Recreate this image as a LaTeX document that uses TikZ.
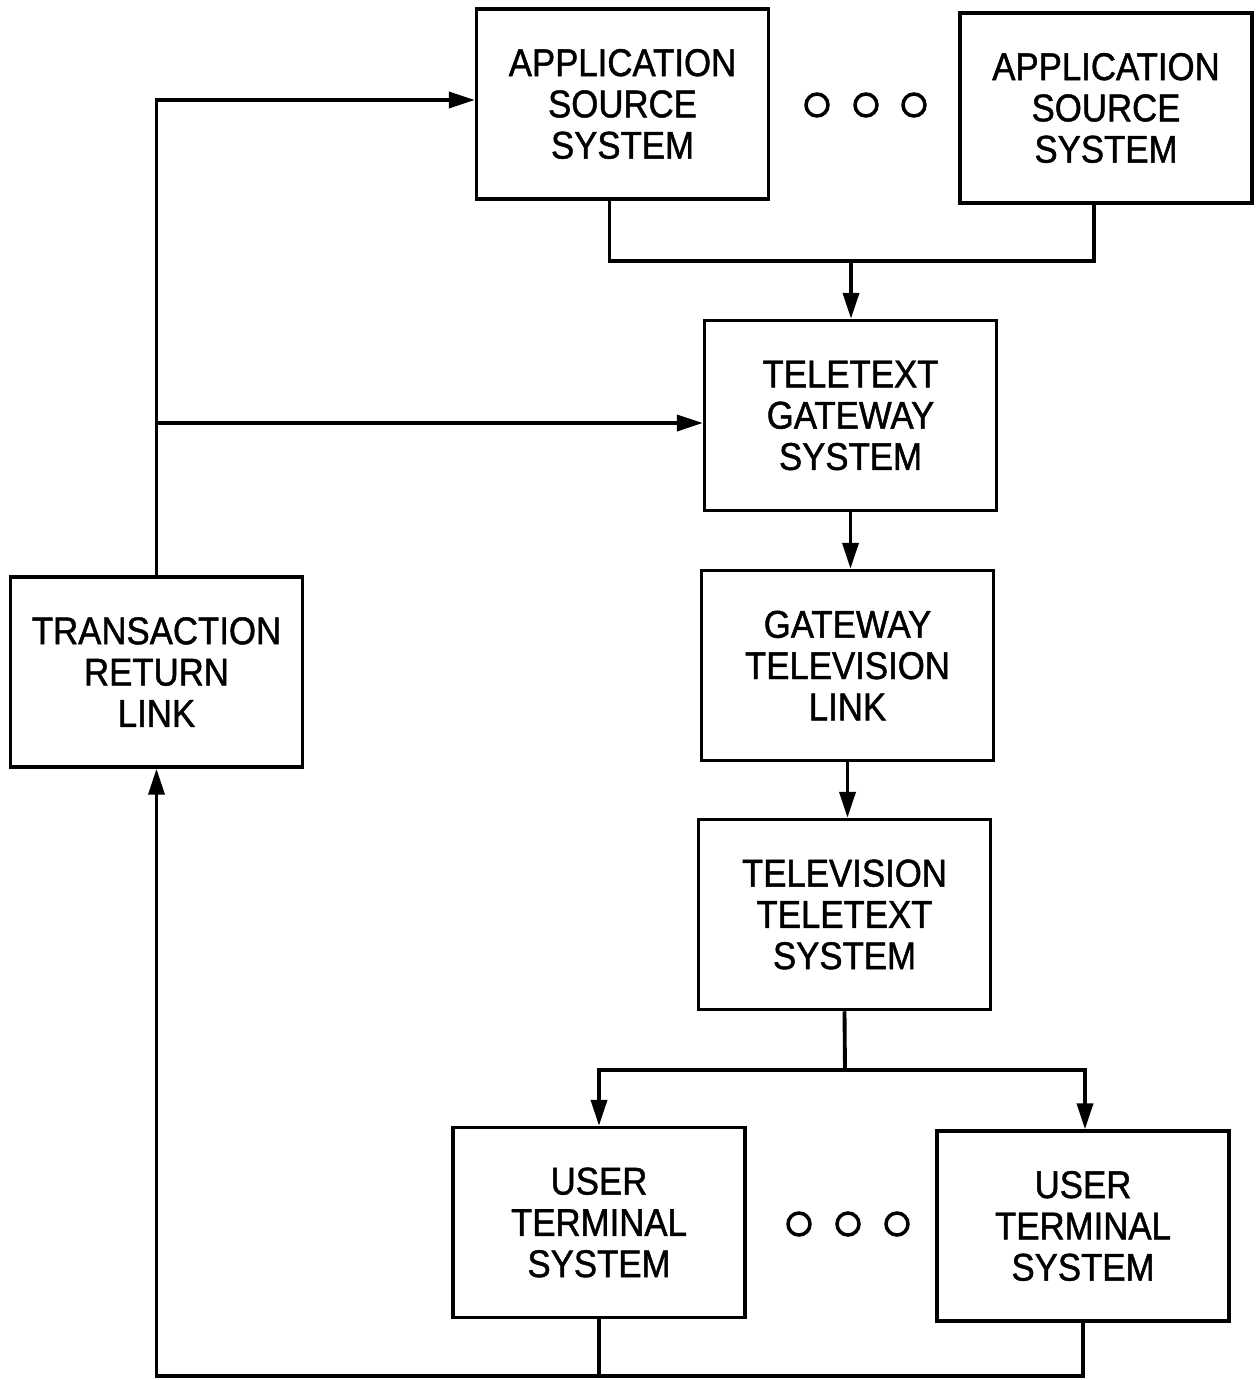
\documentclass[tikz,border=0pt]{standalone}
\usepackage{fontspec}
\setmainfont[FakeStretch=0.9,FakeBold=1.2]{Liberation Sans}
\usetikzlibrary{arrows.meta,calc}
\tikzset{
  blk/.style={draw,line width=2pt,minimum width=5.84cm,minimum height=3.8cm,inner sep=0pt,align=center,font=\fontsize{22}{23.5}\selectfont},
  ln/.style={line width=2.2pt},
  arr/.style={line width=2.2pt,-{Triangle[length=0.52cm,width=0.32cm]}},
  dot/.style={circle,draw,line width=2pt,minimum size=0.44cm,inner sep=0pt}
}
\begin{document}
\begin{tikzpicture}[x=0.02cm,y=-0.02cm]
\useasboundingbox (0,0) rectangle (1257,1380);
\node[blk] (AS1) at (622.5,104) {APPLICATION\\SOURCE\\SYSTEM};
\node[blk] (AS2) at (1106,108) {APPLICATION\\SOURCE\\SYSTEM};
\node[blk] (TG) at (850.5,415.5) {TELETEXT\\GATEWAY\\SYSTEM};
\node[blk] (GTV) at (847.5,665.5) {GATEWAY\\TELEVISION\\LINK};
\node[blk] (TVT) at (844.5,914.5) {TELEVISION\\TELETEXT\\SYSTEM};
\node[blk] (TRL) at (156.5,672) {TRANSACTION\\RETURN\\LINK};
\node[blk] (UT1) at (599,1222.5) {USER\\TERMINAL\\SYSTEM};
\node[blk] (UT2) at (1083,1226) {USER\\TERMINAL\\SYSTEM};
\node[dot] (d1) at (817,105) {};
\node[dot] (d2) at (866,105) {};
\node[dot] (d3) at (914,105) {};
\node[dot] (d4) at (799,1224) {};
\node[dot] (d5) at (848,1224) {};
\node[dot] (d6) at (897,1224) {};
\coordinate (top) at (851,261);
\coordinate (bj) at (845,1070);
\coordinate (bot) at (0,1376);
\draw[ln] ([xshift=-0.26cm]AS1.south) |- (top) -| ([xshift=-0.24cm]AS2.south);
\draw[arr] (top) -- (top |- TG.north);
\draw[arr] (TG.south) -- (TG.south |- GTV.north);
\draw[arr] (GTV.south) -- (GTV.south |- TVT.north);
\draw[ln] (TVT.south) -- (bj);
\draw[arr] (bj) -| (UT1.north);
\draw[arr] (bj) -| ([xshift=0.04cm]UT2.north);
\draw[ln] (UT2.south) |- (UT1.south |- bot);
\draw[arr] (UT1.south) |- (TRL.south |- bot) -- (TRL.south);
\draw[arr] (TRL.north) |- ([yshift=0.08cm]AS1.west);
\draw[arr] (TRL.north |- 0,423) -- (TG.west |- 0,423);
\end{tikzpicture}
\end{document}
